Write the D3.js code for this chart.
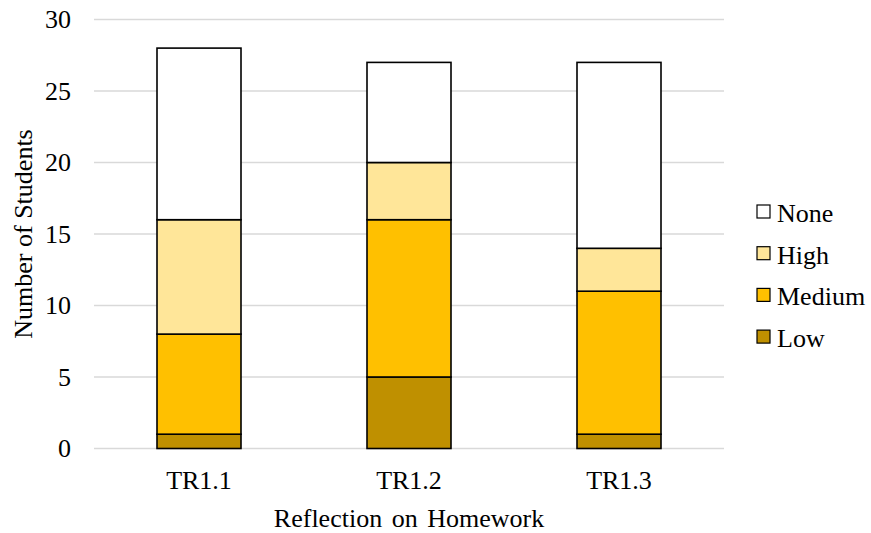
<!DOCTYPE html>
<html><head><meta charset="utf-8">
<script src="https://cdn.jsdelivr.net/npm/d3@7"></script>
<style>body{margin:0;background:#fff}</style>
</head><body>
<svg id="c" width="871" height="533"></svg>
<script>
const categories = ["TR1.1", "TR1.2", "TR1.3"];
const seriesNames = ["Low", "Medium", "High", "None"];
const low = [1, 5, 1];
const medium = [7, 11, 10];
const high = [8, 4, 3];
const none = [12, 7, 13];
const yTicks = [0, 5, 10, 15, 20, 25, 30];
const colors = {Low: "#BF9000", Medium: "#FFC000", High: "#FFE699", None: "#FFFFFF"};

const rows = categories.map((c, i) => ({cat: c, Low: low[i], Medium: medium[i], High: high[i], None: none[i]}));
const stack = d3.stack().keys(seriesNames)(rows);

const svg = d3.select("#c");
const FF = '"Liberation Serif"';
const FS = "26px";
const x = d3.scaleBand().domain(categories).range([94, 724]);
const y = d3.scaleLinear().domain([0, 30]).range([448.5, 19.5]);
const bw = x.bandwidth() * 0.4;

svg.append("g").selectAll("line").data(yTicks).join("line")
  .attr("x1", 94).attr("x2", 724)
  .attr("y1", d => y(d)).attr("y2", d => y(d))
  .attr("stroke", "#d9d9d9").attr("stroke-width", 1.3);

svg.append("g").selectAll("text").data(yTicks).join("text")
  .attr("x", 71).attr("y", d => y(d) + 8.5)
  .attr("text-anchor", "end")
  .style("font-family", FF).style("font-size", FS)
  .attr("fill", "#000").text(d => d);

svg.append("g").selectAll("g").data(stack).join("g")
  .attr("fill", d => colors[d.key])
  .selectAll("rect").data(d => d).join("rect")
  .attr("x", d => x(d.data.cat) + (x.bandwidth() - bw) / 2)
  .attr("width", bw)
  .attr("y", d => y(d[1]))
  .attr("height", d => y(d[0]) - y(d[1]))
  .attr("stroke", "#000").attr("stroke-width", 1.6);

svg.append("g").selectAll("text").data(categories).join("text")
  .attr("x", d => x(d) + x.bandwidth() / 2).attr("y", 489)
  .attr("text-anchor", "middle")
  .style("font-family", FF).style("font-size", FS)
  .text(d => d);

svg.append("text").attr("x", 409).attr("y", 527)
  .attr("text-anchor", "middle")
  .style("font-family", FF).style("font-size", FS).style("word-spacing", "3px")
  .text("Reflection on Homework");

svg.append("text").attr("transform", "translate(32,234) rotate(-90)")
  .attr("text-anchor", "middle")
  .style("font-family", FF).style("font-size", FS)
  .text("Number of Students");

const legendItems = seriesNames.slice().reverse();
const lg = svg.append("g").selectAll("g").data(legendItems).join("g")
  .attr("transform", (d, i) => `translate(757,${222 + i * 41.7})`);
lg.append("rect").attr("x", 0).attr("y", -17).attr("width", 13).attr("height", 13)
  .attr("fill", d => colors[d]).attr("stroke", "#000").attr("stroke-width", 1.2);
lg.append("text").attr("x", 20).attr("y", 0)
  .style("font-family", FF).style("font-size", FS).text(d => d);
</script>
</body></html>
